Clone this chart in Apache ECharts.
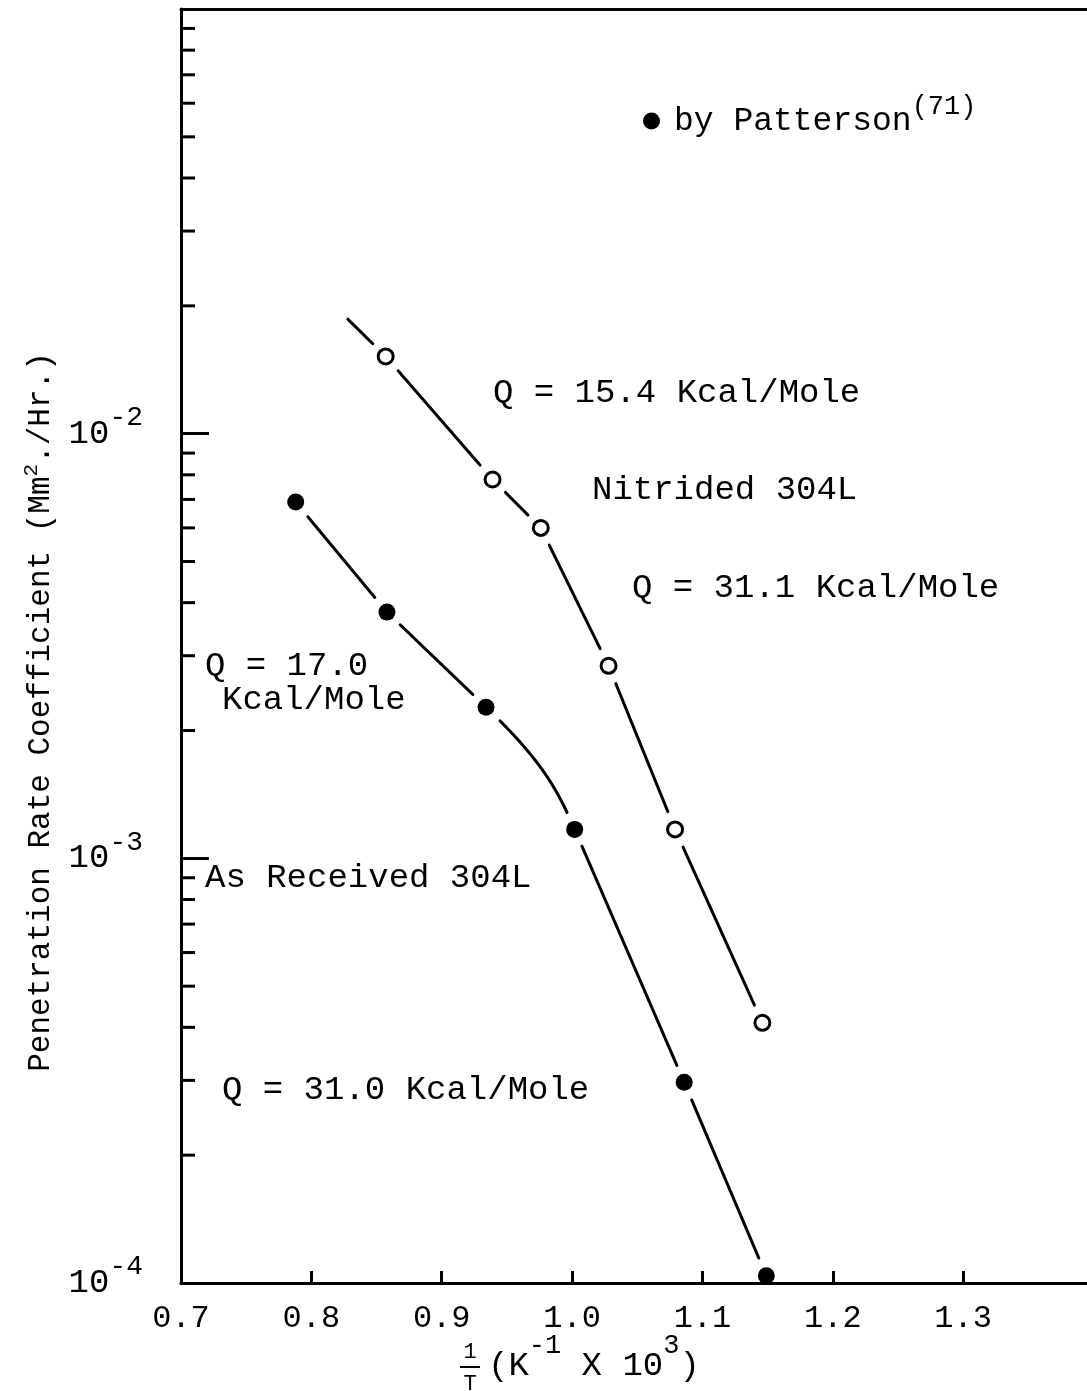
<!DOCTYPE html>
<html>
<head>
<meta charset="utf-8">
<script src="https://cdn.jsdelivr.net/npm/echarts@6/dist/echarts.min.js"></script>
<style>
  html, body { margin: 0; padding: 0; background: #fff; }
  #chart { width: 1087px; height: 1391px; }
</style>
</head>
<body>
<div id="chart"></div>
<script>
// Reciprocal temperature, 1/T (K^-1 x 10^3), and penetration rate coefficient (Mm^2/Hr.)
const nitridedX = [0.857, 0.939, 0.976, 1.028, 1.079, 1.146];
const nitridedY = [0.0152, 0.0078, 0.0060, 0.00284, 0.00117, 0.00041];
// upper end of the fitted line drawn past the first nitrided point
const nitridedLineStart = [0.828, 0.0186];

const receivedX = [0.788, 0.858, 0.934, 1.002, 1.086, 1.149];
const receivedY = [0.0069, 0.0038, 0.00227, 0.00117, 0.000297, 0.000104];

// axis ranges and ticks
const xMin = 0.7, xMax = 1.395, xStep = 0.1;
const yMin = 1e-4, yMax = 1e-1;
const yDecades = [1e-4, 1e-3, 1e-2];
const minorMultipliers = [2, 3, 4, 5, 6, 7, 8, 9];

const FONT = '"Liberation Mono", "DejaVu Sans Mono", monospace';
const INK = '#000';
const GAP = 18; // blank space left around each plotted point by the fitted lines

const nitridedPts = nitridedX.map((x, i) => [x, nitridedY[i]]);
const receivedPts = receivedX.map((x, i) => [x, receivedY[i]]);

const nitridedVertices = [nitridedLineStart].concat(nitridedPts);
const nitridedMarked = [false].concat(nitridedPts.map(() => true));
const receivedVertices = receivedPts;
const receivedMarked = receivedPts.map(() => true);

const minorTickValues = [];
yDecades.forEach(d => minorMultipliers.forEach(m => minorTickValues.push(d * m)));

function unit(p, q) {
  const d = Math.hypot(q[0] - p[0], q[1] - p[1]);
  return [(q[0] - p[0]) / d, (q[1] - p[1]) / d];
}

// draws segment i -> i+1 of a fitted line, optionally as a smooth bend,
// leaving a gap around the plotted points
function fitLineRenderer(vertices, marked, bends) {
  return function (params, api) {
    const i = params.dataIndex;
    if (i >= vertices.length - 1) return null;
    const P = vertices.map(v => api.coord(v));
    const a = P[i], b = P[i + 1];
    const L = Math.hypot(b[0] - a[0], b[1] - a[1]);
    const N = 120;
    let pts = [];
    if (bends.indexOf(i) >= 0 && i > 0 && i + 2 < P.length) {
      const t0 = unit(P[i - 1], a), t1 = unit(b, P[i + 2]);
      const c1 = [a[0] + t0[0] * L * 0.5, a[1] + t0[1] * L * 0.5];
      const c2 = [b[0] - t1[0] * L * 0.3, b[1] - t1[1] * L * 0.3];
      for (let k = 0; k <= N; k++) {
        const t = k / N, u = 1 - t;
        pts.push([
          u * u * u * a[0] + 3 * u * u * t * c1[0] + 3 * u * t * t * c2[0] + t * t * t * b[0],
          u * u * u * a[1] + 3 * u * u * t * c1[1] + 3 * u * t * t * c2[1] + t * t * t * b[1]
        ]);
      }
    } else {
      for (let k = 0; k <= N; k++) {
        const t = k / N;
        pts.push([a[0] + (b[0] - a[0]) * t, a[1] + (b[1] - a[1]) * t]);
      }
    }
    const gA = marked[i] ? GAP : 0, gB = marked[i + 1] ? GAP : 0;
    pts = pts.filter(p => Math.hypot(p[0] - a[0], p[1] - a[1]) >= gA &&
                          Math.hypot(p[0] - b[0], p[1] - b[1]) >= gB);
    if (pts.length < 2) return null;
    return {
      type: 'polyline',
      shape: { points: pts },
      style: { stroke: INK, lineWidth: 3, fill: 'none', lineCap: 'round' }
    };
  };
}

const notes = [
  ['Q = 15.4 Kcal/Mole', 493, 393],
  ['Nitrided 304L', 592, 490],
  ['Q = 31.1 Kcal/Mole', 632, 588],
  ['Q = 17.0', 205, 666],
  ['Kcal/Mole', 222, 700],
  ['As Received 304L', 205, 878],
  ['Q = 31.0 Kcal/Mole', 222, 1090]
];

const chart = echarts.init(document.getElementById('chart'), null, { renderer: 'canvas' });

chart.setOption({
  animation: false,
  backgroundColor: '#fff',
  grid: { left: 181, right: 0, top: 9, bottom: 108, containLabel: false, outerBoundsMode: 'none' },
  legend: {
    data: ['by Patterson'],
    left: 638,
    top: 88,
    icon: 'circle',
    itemWidth: 17,
    itemHeight: 17,
    selectedMode: false,
    itemStyle: { color: INK, opacity: 1 },
    formatter: () => '{g| }{a|by Patterson}{s|(71)}',
    textStyle: {
      color: INK,
      rich: {
        g: { fontFamily: FONT, fontSize: 15, lineHeight: 56, color: INK },
        a: { fontFamily: FONT, fontSize: 33, lineHeight: 56, color: INK },
        s: { fontFamily: FONT, fontSize: 27, lineHeight: 26, verticalAlign: 'top', color: INK }
      }
    }
  },
  xAxis: [{
    type: 'value',
    min: xMin,
    max: xMax,
    interval: xStep,
    axisLine: { show: true, lineStyle: { color: INK, width: 3 } },
    axisTick: { show: true, inside: true, length: 12, lineStyle: { color: INK, width: 3 } },
    axisLabel: {
      margin: 20,
      fontFamily: FONT,
      fontSize: 32,
      color: INK,
      showMaxLabel: false,
      formatter: v => (Math.abs(v * 10 - Math.round(v * 10)) > 1e-6 ? '' : v.toFixed(1))
    },
    splitLine: { show: false }
  }, {
    type: 'value',
    position: 'top',
    min: xMin,
    max: xMax,
    axisLine: { show: true, lineStyle: { color: INK, width: 3 } },
    axisTick: { show: false },
    axisLabel: { show: false },
    splitLine: { show: false }
  }],
  yAxis: {
    type: 'log',
    logBase: 10,
    min: yMin,
    max: yMax,
    axisLine: { show: true, lineStyle: { color: INK, width: 3 } },
    axisTick: { show: true, inside: true, length: 28, lineStyle: { color: INK, width: 3 } },
    axisLabel: {
      margin: 38,
      formatter: v => {
        const e = Math.round(Math.log10(v));
        return e === -1 ? '' : '{b|10}{s|' + e + '}';
      },
      rich: {
        b: { fontFamily: FONT, fontSize: 34, lineHeight: 60, color: INK },
        s: { fontFamily: FONT, fontSize: 28, lineHeight: 26, verticalAlign: 'top', color: INK }
      }
    },
    splitLine: { show: false }
  },
  series: [
    {
      name: 'minor ticks',
      type: 'custom',
      silent: true,
      z: 3,
      encode: { x: 0, y: 1 },
      data: minorTickValues.map(v => [xMin, v]),
      renderItem: (params, api) => {
        const p = api.coord([api.value(0), api.value(1)]);
        return {
          type: 'line',
          shape: { x1: p[0], y1: p[1], x2: p[0] + 14, y2: p[1] },
          style: { stroke: INK, lineWidth: 3 }
        };
      }
    },
    {
      name: 'Nitrided 304L fit',
      type: 'custom',
      silent: true,
      z: 2,
      encode: { x: 0, y: 1 },
      data: nitridedVertices,
      renderItem: fitLineRenderer(nitridedVertices, nitridedMarked, [])
    },
    {
      name: 'As Received 304L fit',
      type: 'custom',
      silent: true,
      z: 2,
      encode: { x: 0, y: 1 },
      data: receivedVertices,
      renderItem: fitLineRenderer(receivedVertices, receivedMarked, [2])
    },
    {
      name: 'Nitrided 304L',
      type: 'scatter',
      z: 4,
      clip: false,
      symbol: 'circle',
      symbolSize: 15,
      itemStyle: { color: '#fff', borderColor: INK, borderWidth: 3, opacity: 1 },
      data: nitridedPts
    },
    {
      name: 'by Patterson',
      type: 'scatter',
      z: 4,
      clip: false,
      symbol: 'circle',
      symbolSize: 17,
      itemStyle: { color: INK, opacity: 1 },
      data: receivedPts
    }
  ],
  graphic: [
    {
      type: 'text',
      x: 41,
      y: 712,
      rotation: Math.PI / 2,
      style: {
        text: '{n|Penetration Rate Coefficient (Mm}{s|2}{n|./Hr.)}',
        align: 'center',
        verticalAlign: 'middle',
        rich: {
          n: { fontFamily: FONT, fontSize: 31, lineHeight: 40, fill: INK },
          s: { fontFamily: FONT, fontSize: 21, lineHeight: 20, verticalAlign: 'top', fill: INK }
        }
      }
    },
    {
      type: 'text',
      x: 470,
      y: 1352,
      style: { text: '1', fontFamily: FONT, fontSize: 22, align: 'center', verticalAlign: 'middle', fill: INK }
    },
    {
      type: 'line',
      shape: { x1: 460, y1: 1367, x2: 480, y2: 1367 },
      style: { stroke: INK, lineWidth: 2 }
    },
    {
      type: 'text',
      x: 470,
      y: 1384,
      style: { text: 'T', fontFamily: FONT, fontSize: 22, align: 'center', verticalAlign: 'middle', fill: INK }
    },
    {
      type: 'text',
      x: 488,
      y: 1366,
      style: {
        text: '{n|(K}{s|-1}{n| X 10}{s|3}{n|)}',
        align: 'left',
        verticalAlign: 'middle',
        rich: {
          n: { fontFamily: FONT, fontSize: 34, lineHeight: 68, fill: INK },
          s: { fontFamily: FONT, fontSize: 27, lineHeight: 26, verticalAlign: 'top', fill: INK }
        }
      }
    }
  ].concat(notes.map(([t, x, y]) => ({
    type: 'text',
    x: x,
    y: y,
    style: { text: t, fontFamily: FONT, fontSize: 34, align: 'left', verticalAlign: 'middle', fill: INK }
  })))
});
</script>
</body>
</html>
